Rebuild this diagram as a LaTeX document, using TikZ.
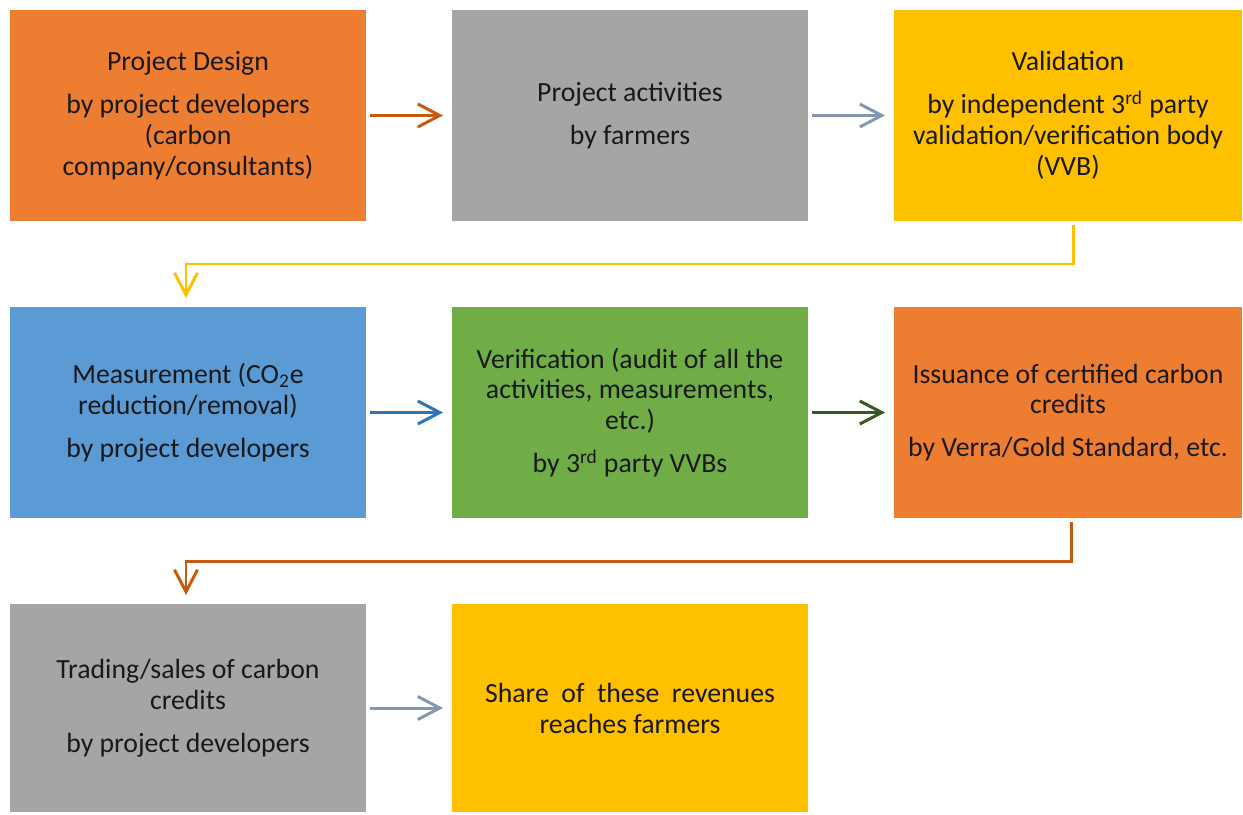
\documentclass[tikz,border=0pt]{standalone}
\usepackage{fontspec}
\setmainfont{Carlito}
\usetikzlibrary{positioning,arrows.meta}

\definecolor{boxOrange}{HTML}{ED7D31}
\definecolor{boxGray}{HTML}{A5A5A5}
\definecolor{boxYellow}{HTML}{FFC000}
\definecolor{boxBlue}{HTML}{5B9BD5}
\definecolor{boxGreen}{HTML}{70AD47}
\definecolor{arrowOrange}{HTML}{C55A11}
\definecolor{arrowSlate}{HTML}{8497B0}
\definecolor{arrowBlue}{HTML}{2E75B6}
\definecolor{arrowGreen}{HTML}{385723}

\begin{document}
\begin{tikzpicture}[node distance=1.72cm,
    stage/.style={draw=none,outer sep=0pt,inner sep=2pt,minimum width=7.12cm,minimum height=4.22cm,align=center,text=black!90,font=\fontsize{15.8}{17.6}\selectfont},
    flow/.style={-{Straight Barb[length=4.4mm,width=4.6mm]},line width=1.7pt,shorten <=0.08cm,shorten >=0.18cm}]
    \useasboundingbox (0,0) rectangle (24.86,-16.28);

    % top row
    \node[stage,fill=boxOrange,anchor=north west] (design) at (0.2,-0.2) {Project Design\\[6.8pt] by project developers\\ (carbon\\ company/consultants)};
    \node[stage,fill=boxGray] (activities) [right=of design] {Project activities\\[6.8pt] by farmers};
    \node[stage,fill=boxYellow,minimum width=6.96cm] (validation) [right=of activities] {Validation\\[6.8pt] by independent 3\textsuperscript{rd} party\\ validation/verification body\\ (VVB)};

    % middle row
    \node[stage,fill=boxBlue] (measure) [below=of design] {Measurement (CO\textsubscript{2}e\\ reduction/removal)\\[6.8pt] by project developers};
    \node[stage,fill=boxGreen] (verify) [right=of measure] {Verification (audit of all the\\ activities, measurements,\\ etc.)\\[6.8pt] by 3\textsuperscript{rd} party VVBs};
    \node[stage,fill=boxOrange,minimum width=6.96cm] (issuance) [right=of verify] {Issuance of certified carbon\\ credits\\[6.8pt] by Verra/Gold Standard, etc.};

    % bottom row
    \node[stage,fill=boxGray,minimum height=4.16cm] (trading) [below=of measure] {Trading/sales of carbon\\ credits\\[6.8pt] by project developers};
    \node[stage,fill=boxYellow,minimum height=4.16cm] (share) [right=of trading] {Share\ \ of\ \ these\ \ revenues\\ reaches farmers};

    \path[flow]
        (design) edge[arrowOrange] (activities)
        (activities) edge[arrowSlate] (validation)
        (measure) edge[arrowBlue] (verify)
        (verify) edge[arrowGreen] (issuance)
        (trading) edge[arrowSlate] (share)
        ;

    \draw[flow,boxYellow] ([xshift=0.1cm]validation.south) -- ++(0,-0.86) -| ([xshift=-0.04cm]measure.north);
    \draw[flow,arrowOrange] ([xshift=0.06cm]issuance.south) -- ++(0,-0.86) -| ([xshift=-0.04cm]trading.north);
\end{tikzpicture}
\end{document}
